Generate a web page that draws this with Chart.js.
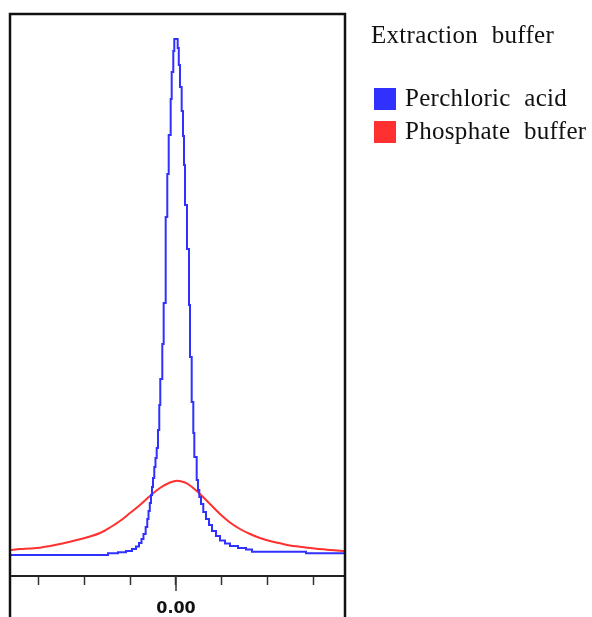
<!DOCTYPE html>
<html>
<head>
<meta charset="utf-8">
<script src="https://cdn.jsdelivr.net/npm/chart.js@4.4.1/dist/chart.umd.min.js"></script>
<style>
    html, body { margin: 0; padding: 0; background: #fff; }
    #wrap { position: relative; width: 592px; height: 617px; }
    #legend {
        position: absolute; left: 0; top: 0;
        font-family: "Liberation Serif", "Times New Roman", serif;
        font-size: 25px; line-height: 25px; letter-spacing: 0.3px; word-spacing: 7px; color: #111;
    }
    #legend div { position: absolute; white-space: nowrap; }
    #legend .box { width: 22px; height: 22px; }
</style>
</head>
<body>
<div id="wrap">
    <canvas id="myChart" width="592" height="617"></canvas>
    <div id="legend"></div>
</div>
<script>
// x position (in tick units) and counts
const legendTitle = 'Extraction buffer';
const seriesNames = ['Perchloric acid', 'Phosphate buffer'];
const seriesColors = ['#3030ff', '#ff3030'];
const tickValues = [-3, -2, -1, 0, 1, 2, 3];

// perchloric acid: stepped histogram, points at bin edges
const acidX = [-3.624, -1.485, -1.266, -1.092, -0.961, -0.873, -0.808, -0.753, -0.710, -0.662,
    -0.627, -0.600, -0.572, -0.546, -0.524, -0.502, -0.474, -0.448, -0.421, -0.393,
    -0.365, -0.343, -0.299, -0.269, -0.225, -0.190, -0.159, -0.116, -0.094, -0.059,
    -0.037, 0.037, 0.061, 0.087, 0.124, 0.153, 0.175, 0.197, 0.240, 0.284,
    0.306, 0.343, 0.378, 0.400, 0.452, 0.480, 0.509, 0.546, 0.596, 0.655,
    0.721, 0.786, 0.873, 0.961, 1.070, 1.179, 1.354, 1.528, 1.659, 2.838, 3.690];
const acidY = [21, 22.7, 23.7, 25, 27, 29.5, 33, 37, 42, 49,
    57, 65, 73, 81, 89, 98, 109, 118, 128, 146,
    171, 197, 232, 273, 359, 402, 441, 477, 504, 525,
    537, 528, 511, 489, 465, 440, 411, 371, 327, 271,
    219, 174, 143, 119, 96, 86, 79, 72, 64, 57,
    51, 45, 40, 35.5, 32.5, 30, 28, 26.5, 24.3, 22.7, 22.7];

// phosphate buffer
const phosX = [-3.624, -3.406, -3.188, -2.969, -2.751, -2.533, -2.314, -2.096, -1.878, -1.659,
    -1.441, -1.223, -1.004, -0.786, -0.568, -0.349, -0.131, 0.022, 0.197, 0.306,
    0.524, 0.742, 0.961, 1.179, 1.397, 1.616, 1.834, 2.052, 2.271, 2.489,
    2.707, 2.926, 3.144, 3.362, 3.690];
const phosY = [26, 27, 27.5, 28.3, 30, 32, 34.3, 36.7, 39.5, 43,
    48.5, 55, 63, 71, 80, 88, 93.5, 95.3, 93.5, 90.5,
    82, 72, 62, 53.5, 47, 42, 38, 35, 32.7, 30.5,
    29.3, 28, 27, 26, 25];

const toPoints = (xs, ys) => xs.map((x, i) => ({ x: x, y: ys[i] }));

// frame round the plot, the side lines run down to the bottom of the picture
const framePlugin = {
    id: 'frame',
    afterDraw(chart) {
        const ctx = chart.ctx;
        const a = chart.chartArea;
        const xs = chart.scales.x;
        ctx.save();
        ctx.strokeStyle = '#111';
        ctx.lineWidth = 2.5;
        ctx.beginPath();
        ctx.moveTo(a.left, chart.height);
        ctx.lineTo(a.left, a.top);
        ctx.lineTo(a.right, a.top);
        ctx.lineTo(a.right, chart.height);
        ctx.stroke();
        // longer tick at zero
        const x0 = Math.round(xs.getPixelForValue(0));
        ctx.lineWidth = 1.5;
        ctx.strokeStyle = '#333';
        ctx.beginPath();
        ctx.moveTo(x0, a.bottom);
        ctx.lineTo(x0, a.bottom + 15);
        ctx.stroke();
        ctx.restore();
    }
};

document.addEventListener("DOMContentLoaded", () => {
    const canvas = document.getElementById('myChart');
    const ctx = canvas.getContext('2d');

    new Chart(ctx, {
        type: 'line',
        data: {
            datasets: [{
                label: seriesNames[0],
                data: toPoints(acidX, acidY),
                borderColor: seriesColors[0],
                borderWidth: 2,
                pointRadius: 0,
                stepped: 'before'
            }, {
                label: seriesNames[1],
                data: toPoints(phosX, phosY),
                borderColor: seriesColors[1],
                borderWidth: 2,
                pointRadius: 0,
                cubicInterpolationMode: 'monotone'
            }]
        },
        options: {
            responsive: false,
            animation: false,
            layout: { padding: { left: 10, top: 14, right: 247, bottom: 1 } },
            plugins: {
                legend: { display: false },
                tooltip: { enabled: false }
            },
            scales: {
                x: {
                    type: 'linear',
                    min: acidX[0],
                    max: acidX[acidX.length - 1],
                    afterBuildTicks: (scale) => {
                        scale.ticks = tickValues.map(v => ({ value: v }));
                    },
                    afterFit: (scale) => { scale.height = 40; },
                    border: { display: true, color: '#222', width: 2 },
                    grid: {
                        drawOnChartArea: false,
                        drawTicks: true,
                        tickLength: 9,
                        tickWidth: 1.5,
                        tickColor: '#333'
                    },
                    ticks: {
                        padding: 14,
                        maxRotation: 0,
                        autoSkip: false,
                        color: '#111',
                        font: { family: '"DejaVu Sans", sans-serif', size: 16, weight: 'bold' },
                        callback: (v) => v === 0 ? '0.00' : ''
                    }
                },
                y: {
                    display: false,
                    min: 0,
                    max: 562
                }
            }
        },
        plugins: [framePlugin]
    });

    // legend at the right
    const legend = document.getElementById('legend');
    const title = document.createElement('div');
    title.textContent = legendTitle;
    title.style.left = '371px';
    title.style.top = '22px';
    legend.appendChild(title);
    seriesNames.forEach((name, i) => {
        const box = document.createElement('div');
        box.className = 'box';
        box.style.background = seriesColors[i];
        box.style.left = '374px';
        box.style.top = (88 + i * 33) + 'px';
        legend.appendChild(box);
        const txt = document.createElement('div');
        txt.textContent = name;
        txt.style.left = '405px';
        txt.style.top = (85 + i * 33) + 'px';
        legend.appendChild(txt);
    });
});
</script>
</body>
</html>
